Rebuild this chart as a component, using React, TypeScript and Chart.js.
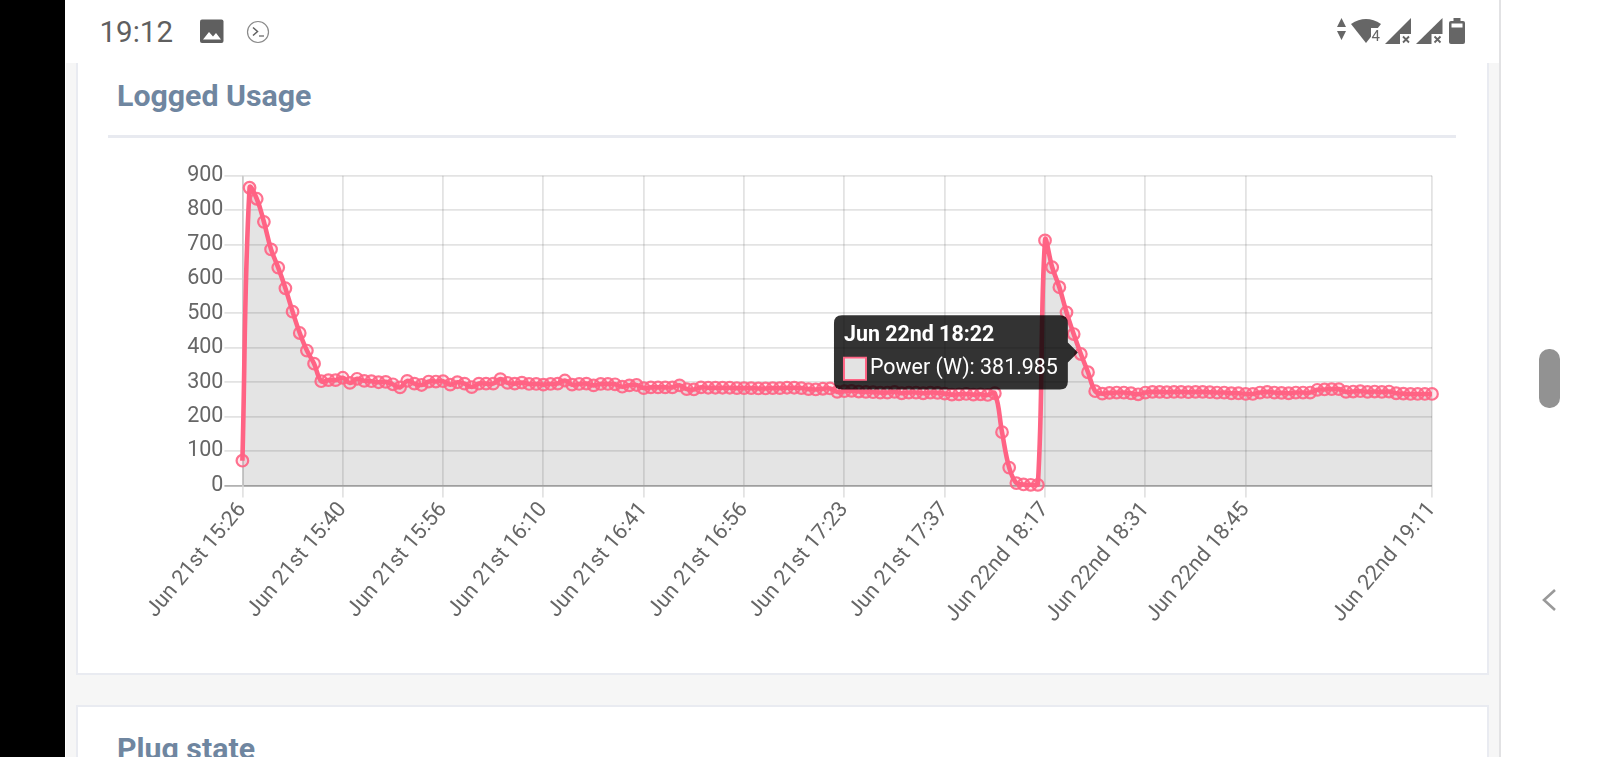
import React, { useEffect, useRef } from "react";
import { Chart, registerables, Tooltip } from "chart.js";

Chart.register(...registerables);

(Tooltip.positioners as any).raised = function (items: any[]) {
  const p = (Tooltip.positioners as any).nearest.call(this, items, { x: 0, y: 0 });
  return p ? { x: p.x, y: p.y - 1.6 } : p;
};

const timesJun21 = [
  "15:26","15:27","15:28","15:29","15:30","15:31","15:32","15:33","15:34","15:35","15:36","15:37","15:38","15:39","15:40",
  "15:41","15:42","15:43","15:44","15:45","15:46","15:47","15:48","15:49","15:50","15:51","15:53","15:54","15:56",
  "15:57","15:58","15:59","16:00","16:01","16:02","16:03","16:04","16:05","16:06","16:07","16:08","16:09","16:10",
  "16:11","16:12","16:13","16:14","16:15","16:16","16:30","16:33","16:34","16:36","16:37","16:38","16:40","16:41",
  "16:42","16:43","16:44","16:45","16:46","16:47","16:48","16:49","16:50","16:51","16:52","16:53","16:54","16:56",
  "16:57","16:58","16:59","17:00","17:01","17:02","17:03","17:15","17:16","17:17","17:19","17:20","17:21","17:23",
  "17:24","17:25","17:26","17:27","17:28","17:29","17:30","17:31","17:32","17:33","17:34","17:35","17:36","17:37",
  "17:38","17:39","17:40","17:41","17:42","17:43","17:44",
];
const timesJun22 = [
  "18:11","18:12","18:13","18:14","18:15","18:16","18:17","18:18","18:19","18:20","18:21","18:22","18:23","18:24","18:25",
  "18:26","18:27","18:28","18:29","18:30","18:31","18:32","18:33","18:34","18:35","18:36","18:37","18:38","18:39","18:40",
  "18:41","18:42","18:43","18:44","18:45","18:46","18:47","18:48","18:49","18:50","18:51","18:52","18:53","18:54","18:55",
  "18:56","18:57","18:58","18:59","19:00","19:01","19:02","19:03","19:04","19:05","19:06","19:07","19:08","19:09","19:10","19:11",
];
const categories = [
  ...timesJun21.map((t) => "Jun 21st " + t),
  ...timesJun22.map((t) => "Jun 22nd " + t),
];
const powerValues = [
  72, 865, 833, 766, 686, 633, 573, 505, 443, 392,
  354, 303, 306, 306, 313, 298, 310, 304, 303, 300,
  301, 294, 285, 304, 296, 292, 302, 302, 303, 293,
  300, 296, 286, 296, 296, 296, 309, 298, 296, 299,
  295, 295, 293, 295, 296, 305, 293, 295, 296, 291,
  295, 295, 294, 287, 291, 292, 283, 285, 285, 285,
  285, 291, 280, 279, 285, 284, 284, 284, 284, 283,
  283, 283, 282, 282, 283, 283, 284, 284, 283, 280,
  279, 281, 282, 272, 274, 275, 273, 272, 271, 270,
  270, 272, 268, 270, 270, 268, 270, 269, 267, 264,
  265, 266, 264, 265, 263, 268, 155, 52, 7, 3,
  2, 2, 712, 634, 576, 503, 440, 381.985, 329, 274,
  267, 269, 270, 270, 268, 265, 270, 272, 272, 271,
  272, 272, 271, 272, 272, 271, 270, 270, 268, 268,
  266, 266, 270, 272, 270, 269, 268, 270, 270, 270,
  278, 279, 280, 280, 272, 273, 274, 272, 273, 272,
  273, 268, 267, 266, 266, 266, 266,
];
const visibleTickIndices = [0, 14, 28, 42, 56, 70, 84, 98, 112, 126, 140, 166];
const seriesName = "Power (W)";
const activeIndex = 117;
const FONT = "Roboto";

function ChartCanvas() {
  const ref = useRef<HTMLCanvasElement | null>(null);
  useEffect(() => {
    const chart = new Chart(ref.current!, {
      type: "line",
      data: {
        labels: categories,
        datasets: [
          {
            label: seriesName,
            data: powerValues,
            fill: true,
            tension: 0.4,
            clip: false,
            backgroundColor: "rgba(0,0,0,0.105)",
            borderColor: "#ff6384",
            borderWidth: 4.6,
            pointRadius: 5.8,
            pointBorderWidth: 2.2,
            pointBorderColor: "rgba(255,99,132,0.9)",
            pointBackgroundColor: "rgba(255,99,132,0.15)",
          },
        ],
      } as any,
      options: {
        responsive: false,
        animation: false,
        layout: { padding: { top: 25.7, right: 24, left: 0, bottom: 0 } },
        events: [],
        scales: {
          x: {
            type: "category",
            afterBuildTicks: (scale: any) => {
              scale.ticks = visibleTickIndices.map((value) => ({ value }));
            },
            afterFit: (scale: any) => {
              scale.height = 179.5;
            },
            grid: {
              color: "rgba(0,0,0,0.11)",
              lineWidth: 1.8,
              tickLength: 12,
            },
            border: { color: "rgba(0,0,0,0.11)", width: 1.8 },
            ticks: {
              autoSkip: false,
              minRotation: 50,
              maxRotation: 50,
              color: "#666",
              padding: 0,
              font: { family: FONT, size: 21.5 },
            },
          },
          y: {
            min: 0,
            max: 900,
            afterFit: (scale: any) => {
              scale.width = 134.4;
            },
            grid: {
              color: (ctx: any) =>
                ctx.tick && ctx.tick.value === 0 ? "rgba(0,0,0,0.3)" : "rgba(0,0,0,0.11)",
              lineWidth: 1.8,
              tickLength: 18,
            },
            border: { color: "rgba(0,0,0,0.11)", width: 1.8 },
            ticks: {
              stepSize: 100,
              color: "#666",
              padding: 1,
              font: { family: FONT, size: 21.5 },
            },
          },
        },
        plugins: {
          legend: { display: false },
          title: { display: false },
          tooltip: {
            enabled: true,
            animation: false,
            position: "raised",
            xAlign: "right",
            yAlign: "center",
            backgroundColor: "rgba(0,0,0,0.8)",
            titleColor: "#fff",
            bodyColor: "#fff",
            titleFont: { family: FONT, size: 21.4, weight: "bold" },
            bodyFont: { family: FONT, size: 21.4 },
            padding: { left: 10, right: 10, top: 8, bottom: 8 },
            titleMarginBottom: 7,
            caretSize: 10,
            caretPadding: 3,
            cornerRadius: 8,
            boxWidth: 22,
            boxHeight: 22,
            boxPadding: 2,
            displayColors: true,
            callbacks: {
              labelColor: () => ({
                borderColor: "#ff6384",
                backgroundColor: "#e3e3e3",
                borderWidth: 2,
              }),
              label: (c: any) => `${c.dataset.label}: ${c.parsed.y}`,
            },
          },
        },
      },
    } as any);
    chart.tooltip!.setActiveElements([{ datasetIndex: 0, index: activeIndex }], { x: 0, y: 0 });
    chart.render();
    return () => chart.destroy();
  }, []);
  return (
    <canvas
      ref={ref}
      width={1348}
      height={515}
      style={{ position: "absolute", left: 108, top: 150, width: 1348, height: 515 }}
    />
  );
}

const abs = (left: number, top: number, width: number, height: number, extra: any = {}) => ({
  position: "absolute" as const,
  left,
  top,
  width,
  height,
  ...extra,
});

export default function App() {
  useEffect(() => {
    document.body.style.margin = "0";
    document.body.style.background = "#fff";
    document.body.style.overflow = "hidden";
  }, []);
  const title = {
    position: "absolute" as const,
    left: 117,
    fontFamily: FONT,
    fontWeight: 700,
    fontSize: 30.3,
    lineHeight: "34px",
    color: "#6f86a0",
    whiteSpace: "nowrap" as const,
  };
  return (
    <div style={{ position: "fixed", left: 0, top: 0, width: 1600, height: 757, overflow: "hidden", background: "#fff", filter: "blur(0.45px)" }}>
      <div style={abs(0, 0, 65, 757, { background: "#000" })} />
      <div style={abs(66, 63, 1433, 694, { background: "#f6f6f6" })} />
      <div style={abs(1499, 0, 2, 757, { background: "#e2e2e4" })} />

      <div style={abs(76, 40, 1412.5, 635, { background: "#fff", border: "2px solid #e9ebf1", boxSizing: "border-box" })} />
      <div style={abs(76, 705, 1412.5, 120, { background: "#fff", border: "2px solid #e9ebf1", boxSizing: "border-box" })} />

      <div style={abs(66, 0, 1433, 63, { background: "#fff" })} />

      <div style={{ ...title, top: 79 }}>Logged Usage</div>
      <div style={abs(108, 134.5, 1348, 3, { background: "#e8eaf0" })} />
      <div style={{ ...title, top: 732 }}>Plug state</div>

      <ChartCanvas />

      <div style={{ position: "absolute", left: 99.5, top: 15, fontFamily: FONT, fontSize: 29.5, lineHeight: "35px", color: "#5f5f5f" }}>19:12</div>

      <svg style={abs(0, 0, 1600, 757, { pointerEvents: "none" })} viewBox="0 0 1600 757">
        <rect x="200" y="19.5" width="23.5" height="23.5" rx="2" fill="#5f5f5f" />
        <path d="M203 39.5 L209 32 L213 36.5 L216 33 L221 39.5 Z" fill="#fff" />
        <circle cx="258" cy="32" r="10.5" fill="none" stroke="#8a8a8a" strokeWidth="1.2" />
        <path d="M253 27.5 L257.5 31.5 L253 35.5" fill="none" stroke="#5f5f5f" strokeWidth="1.5" />
        <path d="M259 36 L264 36" stroke="#5f5f5f" strokeWidth="1.2" />

        <path d="M1341.5 18 L1346 27 L1337 27 Z M1341.5 40 L1346 31 L1337 31 Z" fill="#666" />
        <path d="M1351 24 Q1366 14 1381 24 L1366 43 Z" fill="#666" />
        <rect x="1371" y="28" width="11" height="14" fill="#fff" />
        <text x="1371.5" y="41" fontFamily={FONT} fontSize="15" fill="#666">4</text>

        <path d="M1385 44 L1411 18 L1411 44 Z" fill="#666" />
        <rect x="1400" y="34" width="12" height="11" fill="#fff" />
        <path d="M1403 36.5 L1409 42.5 M1409 36.5 L1403 42.5" stroke="#666" strokeWidth="1.8" />
        <path d="M1416 44 L1442.5 18 L1442.5 44 Z" fill="#666" />
        <rect x="1431.5" y="34" width="12" height="11" fill="#fff" />
        <path d="M1434.5 36.5 L1440.5 42.5 M1440.5 36.5 L1434.5 42.5" stroke="#666" strokeWidth="1.8" />

        <rect x="1449" y="21" width="16" height="23" rx="2" fill="#666" />
        <rect x="1453.5" y="18" width="7" height="4" fill="#666" />
        <rect x="1451.5" y="23.5" width="11" height="4" fill="#fff" />

        <rect x="1539" y="349" width="21" height="59" rx="10" fill="#929292" />
        <path d="M1555 590 L1544 600 L1555 610" fill="none" stroke="#999" strokeWidth="2.6" />
      </svg>
    </div>
  );
}
